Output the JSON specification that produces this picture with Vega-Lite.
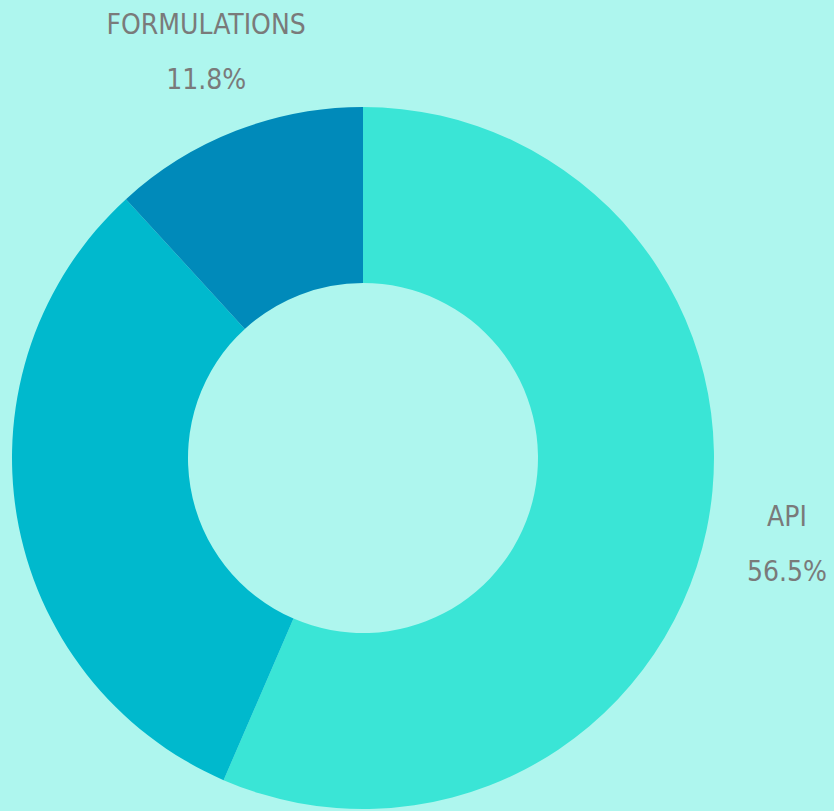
{
  "$schema": "https://vega.github.io/schema/vega-lite/v6.json",
  "width": 726,
  "height": 706,
  "autosize": {"type": "none"},
  "padding": {"left": 0, "top": 105, "right": 108, "bottom": 0},
  "background": "#aef6ee",
  "view": {"stroke": null},
  "data": {
    "values": [
      {"segment": "API", "pct": 56.5, "order": 1, "label": "API", "pctLabel": "56.5%"},
      {"segment": "OTHER", "pct": 31.7, "order": 2, "label": "", "pctLabel": ""},
      {"segment": "FORMULATIONS", "pct": 11.8, "order": 3, "label": "FORMULATIONS", "pctLabel": "11.8%"}
    ]
  },
  "encoding": {
    "theta": {"field": "pct", "type": "quantitative", "stack": true},
    "order": {"field": "order", "type": "quantitative"}
  },
  "layer": [
    {
      "mark": {"type": "arc", "outerRadius": 351, "innerRadius": 175},
      "encoding": {
        "color": {
          "field": "segment",
          "type": "nominal",
          "scale": {"domain": ["API", "OTHER", "FORMULATIONS"], "range": ["#3ae5d6", "#00b9cd", "#008aba"]},
          "legend": null
        }
      }
    },
    {
      "mark": {"type": "text", "radius": 433, "dy": -28, "font": "DejaVu Sans Condensed, DejaVu Sans, sans-serif", "fontSize": 28, "fill": "#7a7a7a", "align": "center", "baseline": "middle"},
      "encoding": {"text": {"field": "label"}}
    },
    {
      "mark": {"type": "text", "radius": 433, "dy": 27, "font": "DejaVu Sans Condensed, DejaVu Sans, sans-serif", "fontSize": 28, "fill": "#7a7a7a", "align": "center", "baseline": "middle"},
      "encoding": {"text": {"field": "pctLabel"}}
    }
  ]
}
